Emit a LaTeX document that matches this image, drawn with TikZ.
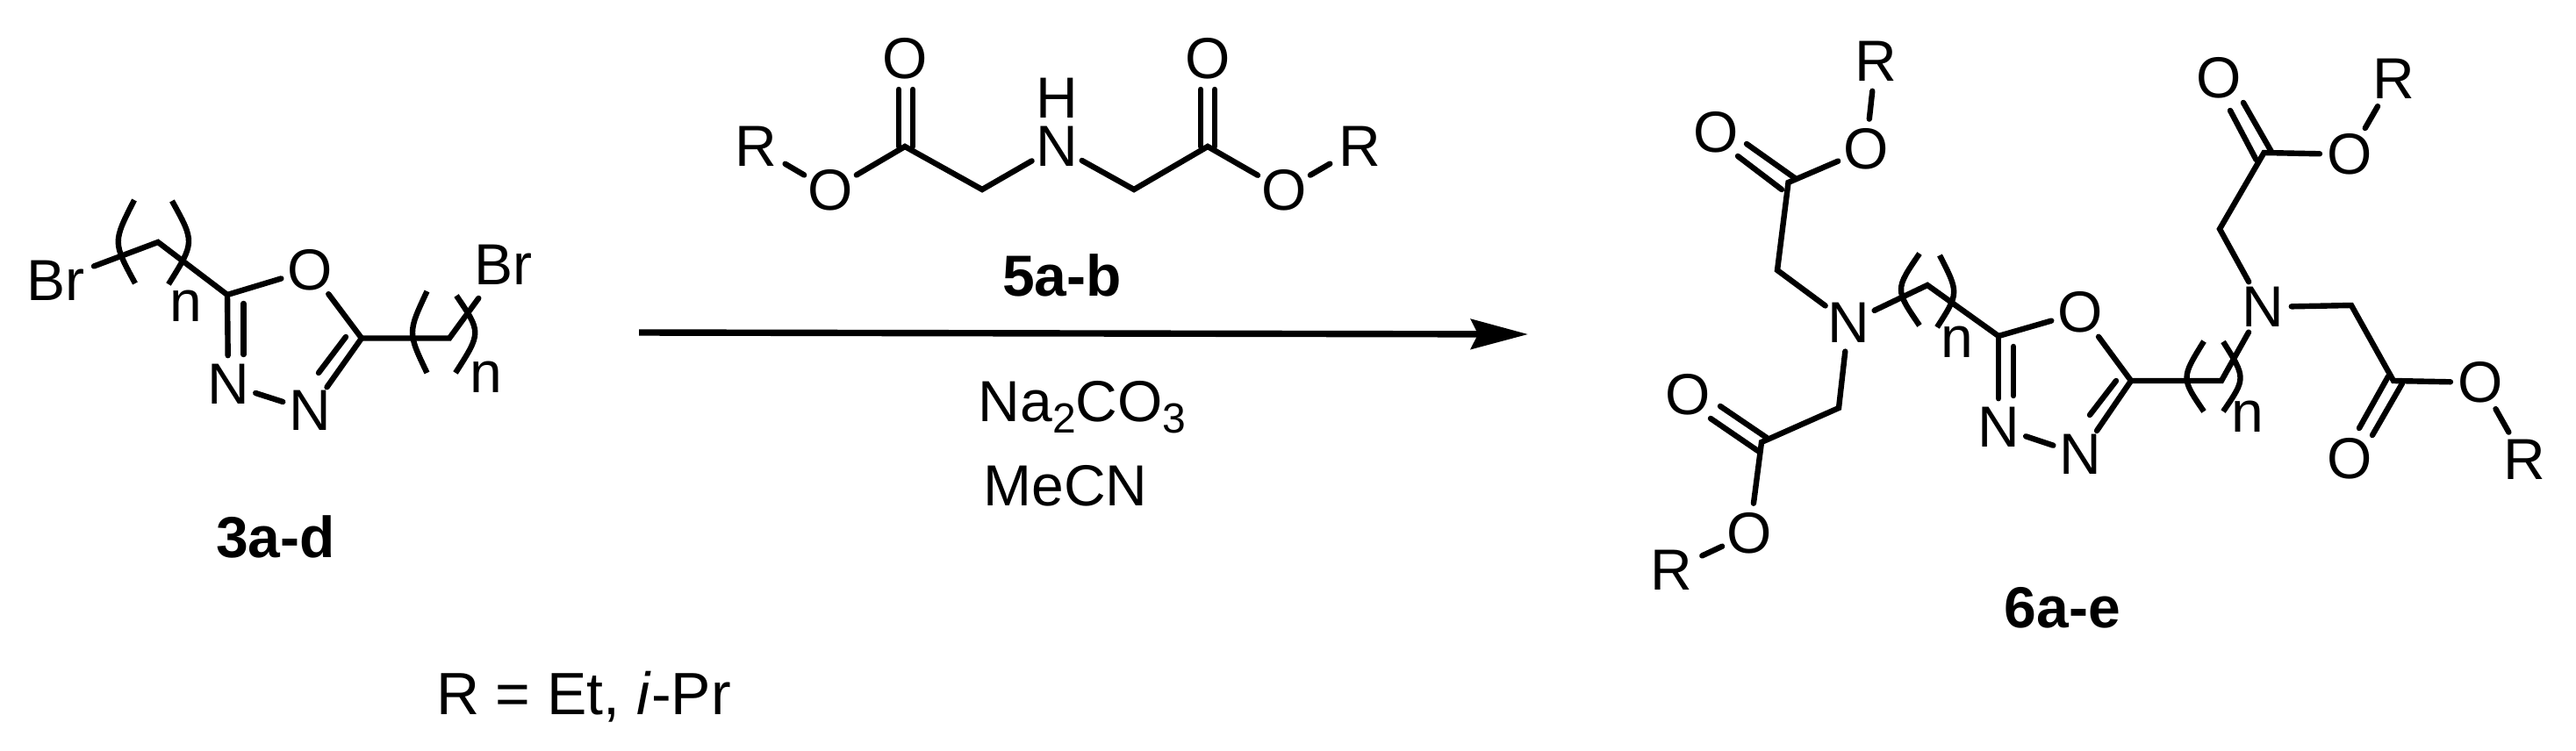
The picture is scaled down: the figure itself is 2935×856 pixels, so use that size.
\documentclass[tikz,border=0pt]{standalone}
\usepackage{fontspec}
\setmainfont{Liberation Sans}
\usetikzlibrary{arrows.meta}
\tikzset{
  atom/.style={circle,inner sep=0pt,outer sep=0pt,font=\fontsize{66}{70}\selectfont},
  wide/.style={atom,minimum size=94pt},
  rgroup/.style={atom,minimum size=78pt},
  idx/.style={inner sep=0pt,font=\fontsize{66}{70}\selectfont},
  cmpd/.style={inner sep=0pt,font=\fontsize{66}{70}\selectfont\bfseries},
  cond/.style={inner sep=0pt,anchor=base,font=\fontsize{66}{70}\selectfont},
  bond/.style={line width=6.4pt,line cap=round,line join=miter},
  brk/.style={line width=6.4pt,line cap=butt},
  rxn/.style={line width=7.4pt,-{Stealth[length=65pt,width=34pt,inset=8pt]}},
  v/.style={inner sep=0pt,minimum size=0pt}
}
\newcommand{\subnum}[1]{\raisebox{-0.2em}{\fontsize{48}{48}\selectfont #1}}
\begin{document}
\begin{tikzpicture}[x=1pt,y=-1pt]
\useasboundingbox (0,0) rectangle (2935,856);
% ---------- compound 3
\node[wide] (aBr1) at (63,320) {Br};
\node[wide] (aBr2) at (573,302) {Br};
\node[atom] (aO) at (353.5,307.5) {O};
\node[atom] (aN1) at (260,438) {N};
\node[atom] (aN2) at (353.5,468) {N};
\coordinate (a1) at (180,276);
\coordinate (a2) at (259,336);
\coordinate (a3) at (412,385.5);
\coordinate (a4) at (512,385.5);
\coordinate (a5) at (277.5,346);
\coordinate (a6) at (277.5,404);
\coordinate (a7) at (394,384);
\coordinate (a8) at (363,425);
\draw[bond] (aBr1) -- (a1) -- (a2) -- (aO);
\draw[bond] (a2) -- (aN1);
\draw[bond] (a5) -- (a6);
\draw[bond] (aN1) -- (aN2);
\draw[bond] (aO) -- (a3) -- (aN2);
\draw[bond] (a7) -- (a8);
\draw[bond] (a3) -- (a4) -- (aBr2);
\draw[brk] (153,228) .. controls (128.5,276) .. (154,323);
\draw[brk] (196,229) .. controls (222,276) .. (192,324);
\draw[brk] (486.5,332) .. controls (464.5,379) .. (486.5,425);
\draw[brk] (520,337) .. controls (548.5,379) .. (519,425);
\node[idx] (an1) at (212,349) {n};
\node[idx] (an2) at (554,430) {n};
\node[cmpd] (a) at (314,612) {3a-d};
% ---------- compound 5
\node[atom] (bO1) at (1031,67) {O};
\node[atom] (bO2) at (1376,67) {O};
\node[atom] (bN) at (1204,167) {N};
\node[atom] (bH) at (1204,112) {H};
\node[atom] (bO3) at (946,217) {O};
\node[atom] (bO4) at (1463,217) {O};
\node[rgroup] (bR1) at (861,167) {R};
\node[rgroup] (bR2) at (1549,167) {R};
\coordinate (b1) at (1031,167);
\coordinate (b2) at (1119,216);
\coordinate (b3) at (1292,216);
\coordinate (b4) at (1376,167);
\coordinate (b5) at (1024,102);
\coordinate (b6) at (1024,167);
\coordinate (b7) at (1040,102);
\coordinate (b8) at (1040,167);
\coordinate (b9) at (1368,102);
\coordinate (b10) at (1368,167);
\coordinate (b11) at (1384,102);
\coordinate (b12) at (1384,167);
\draw[bond] (bR1) -- (bO3);
\draw[bond] (bO3) -- (b1) -- (b2) -- (bN) -- (b3) -- (b4) -- (bO4);
\draw[bond] (bO4) -- (bR2);
\draw[bond] (b5) -- (b6);
\draw[bond] (b7) -- (b8);
\draw[bond] (b9) -- (b10);
\draw[bond] (b11) -- (b12);
\node[cmpd] (b) at (1210,314) {5a-b};
% ---------- arrow and conditions
\coordinate (arrS) at (728,379);
\coordinate (arrE) at (1741,381);
\draw[rxn] (arrS) -- (arrE);
\node[cond] (c1) at (1233,480) {Na\subnum{2}CO\subnum{3}};
\node[cond] (c2) at (1214,576) {MeCN};
\node[inner sep=0pt,font=\fontsize{68}{70}\selectfont] (c3) at (665,794) {R = Et, \textit{i}-Pr};
% ---------- compound 6
\node[rgroup,minimum size=68pt] (dR1) at (2137,70) {R};
\node[atom] (dO1) at (2126,170) {O};
\node[atom] (dO2) at (1955,151) {O};
\node[atom] (dNa) at (2106,368) {N};
\node[atom] (dO3) at (2370.5,356) {O};
\node[atom] (dN1) at (2277,487) {N};
\node[atom] (dN2) at (2370.5,518) {N};
\node[atom] (dO4) at (1993.5,608) {O};
\node[atom] (dO5) at (1923.5,450) {O};
\node[rgroup] (dR2) at (1904,650) {R};
\node[atom] (dO6) at (2528,89) {O};
\node[rgroup,minimum size=72pt] (dR3) at (2727,90) {R};
\node[atom] (dO7) at (2677.5,176) {O};
\node[atom] (dNb) at (2578,350) {N};
\node[atom] (dO8) at (2677.5,523) {O};
\node[atom] (dO9) at (2826.5,436) {O};
\node[rgroup,minimum size=72pt] (dR4) at (2876,524) {R};
\coordinate (d1) at (2037.5,208);
\coordinate (d2) at (2025,308);
\coordinate (d3) at (2196,325);
\coordinate (d4) at (2277,383);
\coordinate (d5) at (2095,465);
\coordinate (d6) at (2007,504);
\coordinate (d7) at (2428,434);
\coordinate (d8) at (2531,434);
\coordinate (d9) at (2579.5,174);
\coordinate (d10) at (2529,261);
\coordinate (d11) at (2679,348);
\coordinate (d12) at (2727,434);
\coordinate (e1) at (1980,178);
\coordinate (e2) at (2030,216);
\coordinate (e3) at (1990,164);
\coordinate (e4) at (2045,203);
\coordinate (e5) at (1949,477);
\coordinate (e6) at (2003,514);
\coordinate (e7) at (1960,463);
\coordinate (e8) at (2013,499);
\coordinate (e9) at (2294,395);
\coordinate (e10) at (2294,451);
\coordinate (e11) at (2411,434);
\coordinate (e12) at (2381,473);
\coordinate (e13) at (2541,126);
\coordinate (e14) at (2570.5,182);
\coordinate (e15) at (2556,117);
\coordinate (e16) at (2588,173);
\coordinate (e17) at (2721,429);
\coordinate (e18) at (2688,488);
\coordinate (e19) at (2737,437);
\coordinate (e20) at (2703,496);
\draw[bond] (dR1) -- (dO1);
\draw[bond] (dO1) -- (d1) -- (d2) -- (dNa);
\draw[bond] (e1) -- (e2);
\draw[bond] (e3) -- (e4);
\draw[bond] (dNa) -- (d3) -- (d4) -- (dO3);
\draw[bond] (d4) -- (dN1);
\draw[bond] (e9) -- (e10);
\draw[bond] (dN1) -- (dN2);
\draw[bond] (dO3) -- (d7) -- (dN2);
\draw[bond] (e11) -- (e12);
\draw[bond] (dNa) -- (d5) -- (d6) -- (dO4);
\draw[bond] (dO4) -- (dR2);
\draw[bond] (e5) -- (e6);
\draw[bond] (e7) -- (e8);
\draw[bond] (d7) -- (d8) -- (dNb);
\draw[bond] (dNb) -- (d10) -- (d9) -- (dO7);
\draw[bond] (dO7) -- (dR3);
\draw[bond] (e13) -- (e14);
\draw[bond] (e15) -- (e16);
\draw[bond] (dNb) -- (d11) -- (d12) -- (dO9);
\draw[bond] (dO9) -- (dR4);
\draw[bond] (e17) -- (e18);
\draw[bond] (e19) -- (e20);
\draw[brk] (2187,289) .. controls (2159,330) .. (2187,371);
\draw[brk] (2210,291) .. controls (2232,334) .. (2207,373);
\draw[brk] (2511,389) .. controls (2485,431) .. (2511,469);
\draw[brk] (2533,389.5) .. controls (2559,431) .. (2533,469);
\node[idx] (dn1) at (2230,390) {n};
\node[idx] (dn2) at (2561,474.5) {n};
\node[cmpd] (d) at (2350,693) {6a-e};
\end{tikzpicture}
\end{document}
